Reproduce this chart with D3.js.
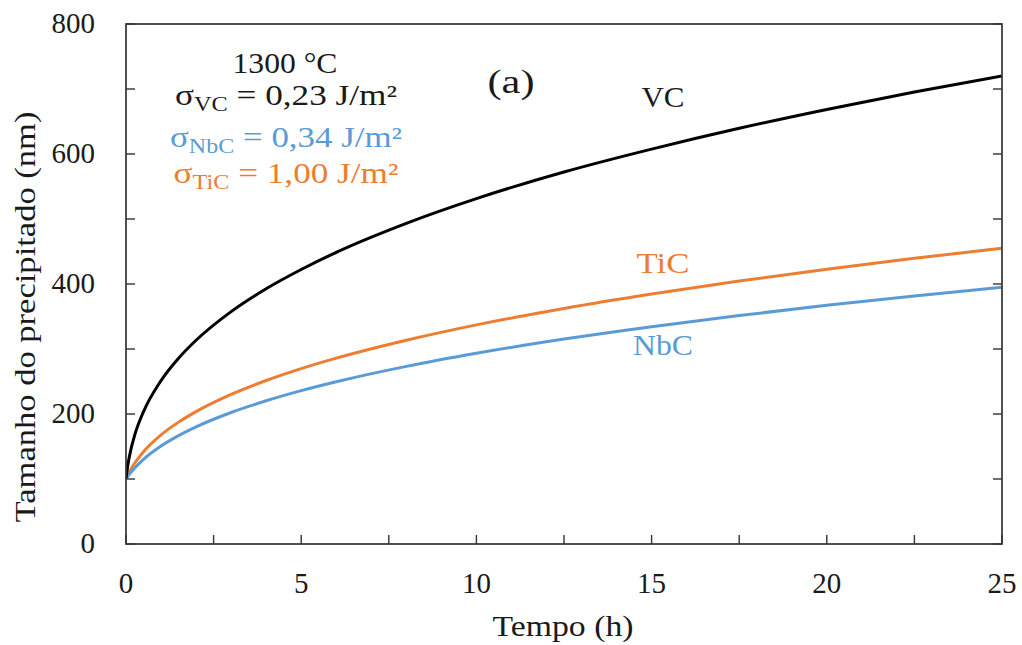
<!DOCTYPE html>
<html><head><meta charset="utf-8">
<script src="https://cdn.jsdelivr.net/npm/d3@7"></script>
<style>body{margin:0;background:#fff}svg{display:block}text{font-family:"Liberation Serif","Times New Roman",serif}</style>
</head><body><svg id="c" width="1022" height="645"></svg>
<script>
const tempo = [0,0.02,0.05,0.1,0.25,0.5,1,1.5,2,3,4,5,6,8,10,12.5,15,17.5,20,22.5,25];
const vc  = [100,109,120.4,135.5,167.8,203.6,251.4,285.8,313.4,357.5,392.7,422.3,448.7,493.3,531.3,572.3,607.5,639.6,668.6,695.4,720];
const tic = [100,102.5,105.9,111.1,124.6,142.0,167.9,187.5,203.7,230.1,251.5,269.8,285.9,313.5,337.1,362.4,384.6,404.6,422.6,439.5,455];
const nbc = [100,101.6,103.9,107.5,117.1,130.3,150.7,166.7,180.2,202.3,220.3,235.9,249.6,273.3,293.4,315.3,334.4,351.5,367.2,381.6,395];
const xTicks = [0,5,10,15,20,25];
const yTicks = [0,200,400,600,800];
const series = [
  {name:"VC", values:vc, color:"#000000"},
  {name:"NbC", values:nbc, color:"#5b9bd5"},
  {name:"TiC", values:tic, color:"#ed7d31"}
];
const svg = d3.select("#c");
const L=126,R=1002,T=24,B=544;
const x = d3.scaleLinear().domain([0,25]).range([L,R]);
const y = d3.scaleLinear().domain([0,800]).range([B,T]);
const ax = "#333";
const g = svg.append("g");
d3.range(0,25.01,2.5).forEach(v=>{
  g.append("line").attr("x1",x(v)).attr("x2",x(v)).attr("y1",B).attr("y2",B-9).attr("stroke",ax).attr("stroke-width",1.4);
});
d3.range(0,800.1,100).forEach(v=>{
  g.append("line").attr("x1",L).attr("x2",L+9).attr("y1",y(v)).attr("y2",y(v)).attr("stroke",ax).attr("stroke-width",1.4);
  g.append("line").attr("x1",R).attr("x2",R-9).attr("y1",y(v)).attr("y2",y(v)).attr("stroke",ax).attr("stroke-width",1.4);
});
const line = d3.line().x((d,i)=>x(tempo[i])).y(d=>y(d)).curve(d3.curveMonotoneX);
svg.append("defs").append("clipPath").attr("id","clip").append("rect").attr("x",L).attr("y",T).attr("width",R-L).attr("height",B-T);
series.slice().reverse().forEach(s=>{
  svg.append("path").attr("d",line(s.values)).attr("fill","none").attr("stroke",s.color).attr("stroke-width",3).attr("clip-path","url(#clip)");
});
svg.append("rect").attr("x",L).attr("y",T).attr("width",R-L).attr("height",B-T).attr("fill","none").attr("stroke",ax).attr("stroke-width",1.7);
const fs = 29, tc = "#1a1a1a";
xTicks.forEach(v=>svg.append("text").attr("x",x(v)).attr("y",593).attr("text-anchor","middle").attr("font-size",fs).attr("fill",tc).text(v));
yTicks.forEach(v=>svg.append("text").attr("x",95).attr("y",y(v)+8.5).attr("text-anchor","end").attr("font-size",fs).attr("fill",tc).text(v));
svg.append("text").attr("x",563).attr("y",636).attr("text-anchor","middle").attr("font-size",fs).attr("fill",tc)
  .attr("textLength",141).attr("lengthAdjust","spacingAndGlyphs").text("Tempo (h)");
svg.append("text").attr("transform","translate(35,317) rotate(-90)").attr("text-anchor","middle").attr("font-size",fs).attr("fill",tc)
  .attr("textLength",411).attr("lengthAdjust","spacingAndGlyphs").text("Tamanho do precipitado (nm)");
svg.append("text").attr("x",285).attr("y",73).attr("text-anchor","middle").attr("font-size",fs).attr("fill",tc)
  .attr("textLength",105).attr("lengthAdjust","spacingAndGlyphs").text("1300 °C");
const sig = [["VC","0,23",tc,105,222],["NbC","0,34","#5b9bd5",147,232],["TiC","1,00","#ed7d31",183,225]];
sig.forEach(([n,v,c,yy,w])=>{
  const t = svg.append("text").attr("x",286).attr("y",yy).attr("text-anchor","middle").attr("font-size",fs).attr("fill",c)
    .attr("textLength",w).attr("lengthAdjust","spacingAndGlyphs");
  t.append("tspan").text("σ");
  t.append("tspan").attr("font-size",20).attr("dy",6).text(n);
  t.append("tspan").attr("dy",-6).text(" = "+v+" J/m²");
});
svg.append("text").attr("x",511).attr("y",93).attr("text-anchor","middle").attr("font-size",34).attr("fill",tc)
  .attr("textLength",47).attr("lengthAdjust","spacingAndGlyphs").text("(a)");
svg.append("text").attr("x",663).attr("y",107).attr("text-anchor","middle").attr("font-size",fs).attr("fill",tc)
  .attr("textLength",43).attr("lengthAdjust","spacingAndGlyphs").text("VC");
svg.append("text").attr("x",663).attr("y",273).attr("text-anchor","middle").attr("font-size",fs).attr("fill","#ed7d31")
  .attr("textLength",53).attr("lengthAdjust","spacingAndGlyphs").text("TiC");
svg.append("text").attr("x",663).attr("y",355).attr("text-anchor","middle").attr("font-size",fs).attr("fill","#5b9bd5")
  .attr("textLength",60).attr("lengthAdjust","spacingAndGlyphs").text("NbC");
</script></body></html>
